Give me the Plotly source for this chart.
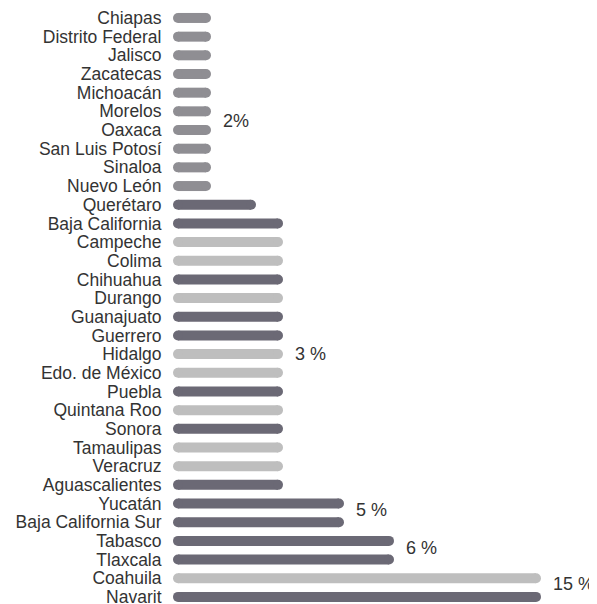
import plotly.graph_objects as go

states = [
    "Chiapas", "Distrito Federal", "Jalisco", "Zacatecas", "Michoacán",
    "Morelos", "Oaxaca", "San Luis Potosí", "Sinaloa", "Nuevo León",
    "Querétaro", "Baja California", "Campeche", "Colima", "Chihuahua",
    "Durango", "Guanajuato", "Guerrero", "Hidalgo", "Edo. de México",
    "Puebla", "Quintana Roo", "Sonora", "Tamaulipas", "Veracruz",
    "Aguascalientes", "Yucatán", "Baja California Sur", "Tabasco",
    "Tlaxcala", "Coahuila", "Navarit",
]
# relative bar lengths as drawn in the picture
bar_len = [2.8] * 10 + [7.3] + [10.0] * 15 + [16.1, 16.1, 21.1, 21.1, 35.8, 35.8]
tone = (["mid"] * 10 +
        ["dark", "dark", "light", "light", "dark", "light", "dark", "dark",
         "light", "light", "dark", "light", "dark", "light", "light", "dark",
         "dark", "dark", "dark", "dark", "light", "dark"])

label_text = ["2%", "3 %", "5 %", "6 %", "15 %"]
label_row = [5.5, 18, 26.35, 28.4, 30.3]
label_len = [2.8, 10.0, 16.1, 21.1, 35.8]

colors = {"mid": "#8f8e93", "dark": "#6b6975", "light": "#bebebe"}

fig = go.Figure()
for t, c in colors.items():
    xs, ys = [], []
    for i, (s, L) in enumerate(zip(states, bar_len)):
        if tone[i] != t:
            continue
        xs += [0, L, None]
        ys += [i, i, None]
    fig.add_trace(go.Scatter(
        x=xs, y=ys, mode="lines+markers",
        line=dict(color=c, width=10),
        marker=dict(color=c, size=10, line=dict(width=0)),
        cliponaxis=False, hoverinfo="skip", showlegend=False,
    ))

for txt, r, L in zip(label_text, label_row, label_len):
    fig.add_annotation(x=L, y=r, text=txt, showarrow=False, xanchor="left",
                       xshift=15, font=dict(size=18, color="#333333"))

# page body has an 8px margin, so the figure is shifted by 8px
fig.update_layout(
    width=589, height=596,
    margin=dict(l=170, r=0, t=1, b=0),
    plot_bgcolor="white", paper_bgcolor="white",
    font=dict(family="Liberation Sans, Arial, sans-serif", size=17.5, color="#333333"),
    xaxis=dict(range=[0, 41.9], visible=False, automargin=False),
    yaxis=dict(
        range=[31.38, -0.48], tickmode="array",
        tickvals=list(range(len(states))), ticktext=states,
        showgrid=False, zeroline=False, showline=False,
        ticks="outside", ticklen=12, tickcolor="rgba(0,0,0,0)",
        ticklabeloverflow="allow", automargin=False,
    ),
)

fig.write_html("out.html")
